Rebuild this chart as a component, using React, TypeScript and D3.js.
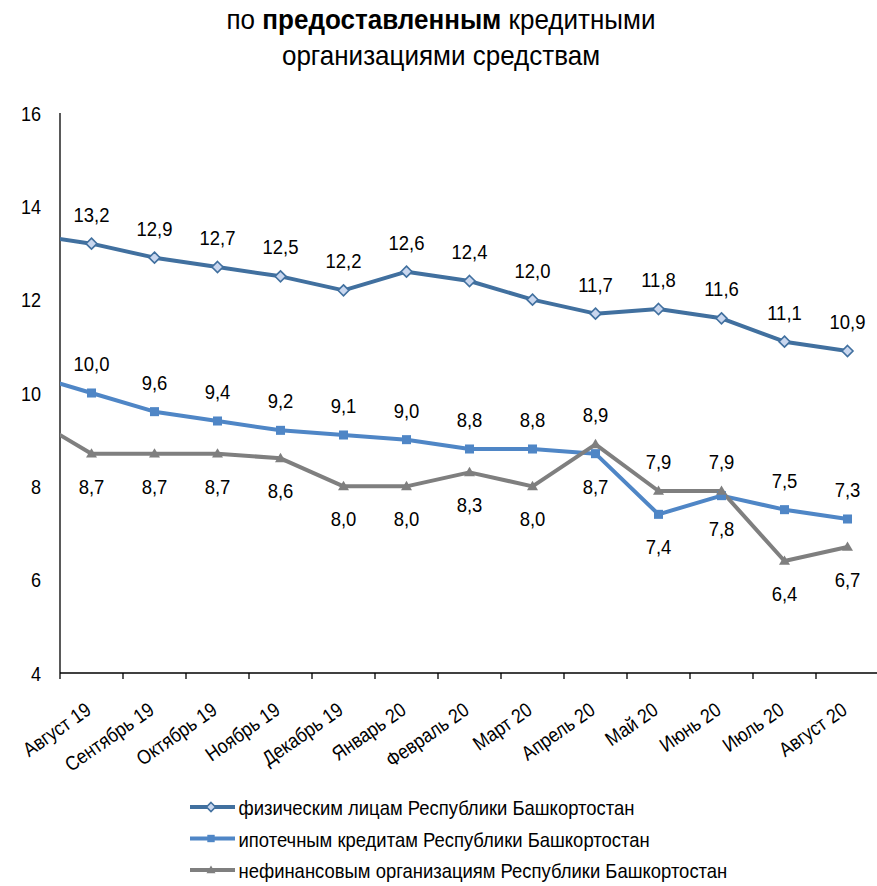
import React from 'react';
import * as d3 from 'd3';

const categories = ['Август 19', 'Сентябрь 19', 'Октябрь 19', 'Ноябрь 19', 'Декабрь 19', 'Январь 20', 'Февраль 20', 'Март 20', 'Апрель 20', 'Май 20', 'Июнь 20', 'Июль 20', 'Август 20'];
const individuals = [13.2, 12.9, 12.7, 12.5, 12.2, 12.6, 12.4, 12.0, 11.7, 11.8, 11.6, 11.1, 10.9];
const mortgage = [10.0, 9.6, 9.4, 9.2, 9.1, 9.0, 8.8, 8.8, 8.7, 7.4, 7.8, 7.5, 7.3];
const nonFinancial = [8.7, 8.7, 8.7, 8.6, 8.0, 8.0, 8.3, 8.0, 8.9, 7.9, 7.9, 6.4, 6.7];
// value of the month before the first category (only the stub reaching the axis shows)
const individualsPrev = 13.4;
const mortgagePrev = 10.4;
const nonFinancialPrev = 9.5;
// data label side: 1 = above the point, -1 = below
const individualsSide = [1, 1, 1, 1, 1, 1, 1, 1, 1, 1, 1, 1, 1];
const mortgageSide = [1, 1, 1, 1, 1, 1, 1, 1, -1, -1, -1, 1, 1];
const nonFinancialSide = [-1, -1, -1, -1, -1, -1, -1, -1, 1, 1, 1, -1, -1];
const yTicks = [4, 6, 8, 10, 12, 14, 16];
const seriesNames = [
  'физическим лицам Республики Башкортостан',
  'ипотечным кредитам Республики Башкортостан',
  'нефинансовым организациям Республики Башкортостан',
];
const titleLine1 = ['по ', 'предоставленным', ' кредитными'];
const titleLine2 = 'организациями средствам';

const W = 877;
const H = 886;
const FONT = '"Liberation Sans", Arial, sans-serif';
const COLORS = ['#41709f', '#4f86c6', '#7f7f7f'];

const fmt = (v: number) => v.toFixed(1).replace('.', ',');

function Marker({ kind, x, y, color, s = 5.5 }: { kind: number; x: number; y: number; color: string; s?: number }) {
  if (kind === 0) {
    return (
      <path
        d={`M${x},${y - s}L${x + s},${y}L${x},${y + s}L${x - s},${y}Z`}
        fill="#c9d7ef"
        stroke={color}
        strokeWidth={1.6}
      />
    );
  }
  if (kind === 1) {
    const h = s * 0.82;
    return <rect x={x - h} y={y - h} width={2 * h} height={2 * h} fill={color} />;
  }
  return <path d={`M${x},${y - s}L${x + s},${y + s * 0.7}L${x - s},${y + s * 0.7}Z`} fill={color} />;
}

export default function App() {
  const x = d3.scalePoint<string>().domain(categories).range([60, 879]).padding(0.5);
  const step = x.step();
  const y = d3.scaleLinear().domain([4, 16]).range([673, 113]);

  const series = [
    { values: individuals, prev: individualsPrev, side: individualsSide },
    { values: mortgage, prev: mortgagePrev, side: mortgageSide },
    { values: nonFinancial, prev: nonFinancialPrev, side: nonFinancialSide },
  ];

  const line = d3
    .line<{ px: number; v: number }>()
    .x((d) => d.px)
    .y((d) => y(d.v));

  const tickEdges = d3.range(categories.length + 1).map((i) => 60 + i * step);

  return (
    <svg
      width={W}
      height={H}
      style={{ position: 'absolute', left: 0, top: 0, background: '#fff' }}
      fontFamily={FONT}
    >
      <defs>
        <clipPath id="plotClip">
          <rect x={60} y={100} width={W - 60} height={600} />
        </clipPath>
      </defs>
      <rect width={W} height={H} fill="#fff" />
      {/* title */}
      <text transform="translate(441,28.5) scale(0.93,1)" textAnchor="middle" fontSize={28} fill="#000">
        <tspan>{titleLine1[0]}</tspan>
        <tspan fontWeight="bold">{titleLine1[1]}</tspan>
        <tspan>{titleLine1[2]}</tspan>
      </text>
      <text transform="translate(441,65) scale(0.93,1)" textAnchor="middle" fontSize={28} fill="#000">
        {titleLine2}
      </text>

      {/* y axis */}
      <line x1={60} x2={60} y1={y(16)} y2={y(4)} stroke="#000" strokeWidth={1.3} />
      {yTicks.map((t) => (
        <text
          key={t}
          transform={`translate(41,${y(t) + 7.5}) scale(0.86,1)`}
          textAnchor="end"
          fontSize={21}
          fill="#000"
        >
          {t}
        </text>
      ))}

      {/* x axis */}
      <line x1={60} x2={W} y1={y(4)} y2={y(4)} stroke="#000" strokeWidth={1.3} />
      {tickEdges.map((tx, i) => (
        <line key={i} x1={tx} x2={tx} y1={y(4)} y2={y(4) + 6} stroke="#000" strokeWidth={1.3} />
      ))}
      {categories.map((c) => (
        <text
          key={c}
          transform={`translate(${(x(c) as number) + 1},713) rotate(-35) scale(0.88,1)`}
          textAnchor="end"
          fontSize={20}
          fill="#000"
        >
          {c}
        </text>
      ))}

      {/* lines */}
      <g clipPath="url(#plotClip)">
        {series.map((s, si) => {
          const pts = [
            { px: (x(categories[0]) as number) - step, v: s.prev },
            ...s.values.map((v, i) => ({ px: x(categories[i]) as number, v })),
          ];
          return (
            <path
              key={si}
              d={line(pts) || ''}
              fill="none"
              stroke={COLORS[si]}
              strokeWidth={4}
              strokeLinejoin="round"
            />
          );
        })}
      </g>
      {series.map((s, si) =>
        s.values.map((v, i) => (
          <Marker key={`${si}-${i}`} kind={si} x={x(categories[i]) as number} y={y(v)} color={COLORS[si]} />
        ))
      )}

      {/* data labels */}
      {series.map((s, si) =>
        s.values.map((v, i) => (
          <text
            key={`l${si}-${i}`}
            transform={`translate(${x(categories[i]) as number},${y(v) + (s.side[i] > 0 ? -22 : 40)}) scale(0.88,1)`}
            textAnchor="middle"
            fontSize={21}
            fill="#000"
          >
            {fmt(v)}
          </text>
        ))
      )}

      {/* legend */}
      {seriesNames.map((name, i) => {
        const ly = 807 + i * 31.5;
        return (
          <g key={name}>
            <line x1={190} x2={235} y1={ly} y2={ly} stroke={COLORS[i]} strokeWidth={4} />
            <Marker kind={i} x={211} y={ly} color={COLORS[i]} s={4.5} />
            <text transform={`translate(238.5,${ly + 8}) scale(0.9,1)`} fontSize={20.5} fill="#000">
              {name}
            </text>
          </g>
        );
      })}
    </svg>
  );
}
